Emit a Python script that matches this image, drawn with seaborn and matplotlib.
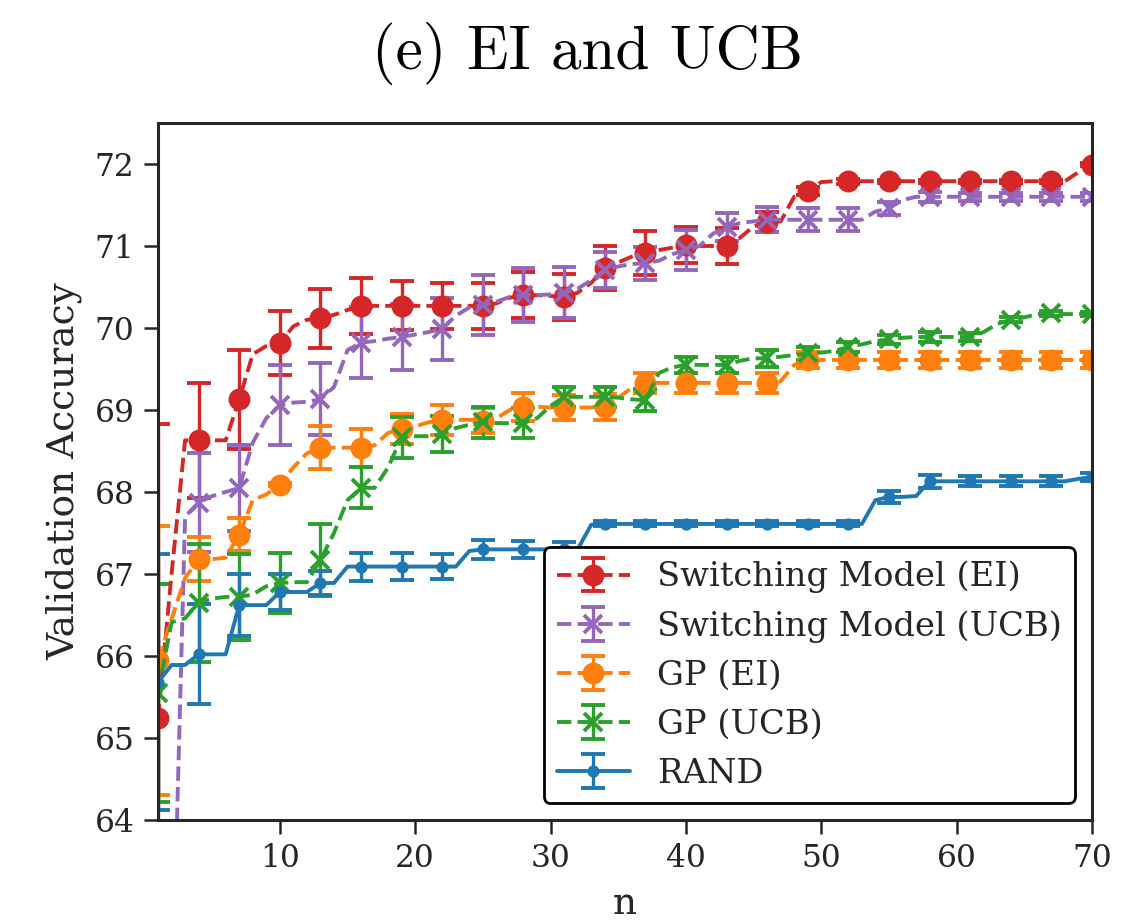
import numpy as np
import matplotlib
matplotlib.use("Agg")
import matplotlib.pyplot as plt
import seaborn as sns

n = list(range(1, 71))

sm_ei = [65.24, 67.0, 68.63, 68.63, 68.63, 68.63, 69.13, 69.68, 69.78, 69.82,
         70.02, 70.1, 70.12, 70.16, 70.22, 70.27, 70.27, 70.27, 70.27, 70.27,
         70.27, 70.27, 70.27, 70.27, 70.27, 70.3, 70.37, 70.4, 70.4, 70.39,
         70.38, 70.43, 70.55, 70.73, 70.8, 70.87, 70.91, 70.95, 70.98, 71.01,
         71.0, 71.0, 71.0, 71.1, 71.24, 71.29, 71.3, 71.6, 71.67, 71.78,
         71.79, 71.79, 71.79, 71.79, 71.79, 71.79, 71.79, 71.79, 71.79, 71.79,
         71.79, 71.79, 71.79, 71.79, 71.79, 71.79, 71.79, 71.79, 71.9, 71.99]
sm_ei_err = [3.59, 0.70, 0.60, 0.39, 0.36, 0.34, 0.30, 0.28, 0.28, 0.28, 0.28, 0.27,
             0.27, 0.22, 0.22, 0.12, 0.05, 0.03, 0.02, 0.02, 0.02, 0.02, 0.02, 0.02]

sm_ucb = [60.0, 61.5, 67.7, 67.87, 67.95, 68.0, 68.05, 68.6, 68.9, 69.06,
          69.09, 69.1, 69.13, 69.28, 69.73, 69.82, 69.84, 69.87, 69.89, 69.92,
          69.95, 69.99, 70.15, 70.25, 70.28, 70.32, 70.38, 70.4, 70.4, 70.41,
          70.43, 70.48, 70.58, 70.71, 70.75, 70.78, 70.79, 70.82, 70.9, 70.95,
          71.0, 71.15, 71.23, 71.28, 71.3, 71.32, 71.32, 71.32, 71.32, 71.32,
          71.32, 71.32, 71.32, 71.42, 71.46, 71.56, 71.6, 71.6, 71.6, 71.6,
          71.6, 71.6, 71.6, 71.6, 71.6, 71.6, 71.6, 71.6, 71.6, 71.6]
sm_ucb_err = [0.5, 0.6, 0.52, 0.49, 0.44, 0.43, 0.40, 0.38, 0.37, 0.33, 0.31, 0.22,
              0.20, 0.24, 0.17, 0.15, 0.14, 0.14, 0.08, 0.06, 0.05, 0.05, 0.05, 0.05]

gp_ei = [65.95, 66.45, 66.95, 67.18, 67.18, 67.2, 67.48, 67.9, 67.97, 68.09,
         68.3, 68.47, 68.54, 68.54, 68.54, 68.54, 68.57, 68.72, 68.77, 68.8,
         68.85, 68.88, 68.88, 68.88, 68.87, 68.9, 69.0, 69.04, 69.04, 69.03,
         69.03, 69.03, 69.03, 69.04, 69.15, 69.27, 69.33, 69.33, 69.33, 69.33,
         69.33, 69.33, 69.33, 69.33, 69.33, 69.33, 69.35, 69.55, 69.61, 69.61,
         69.61, 69.61, 69.61, 69.61, 69.61, 69.61, 69.61, 69.61, 69.61, 69.61,
         69.61, 69.61, 69.61, 69.61, 69.61, 69.61, 69.61, 69.61, 69.61, 69.61]
gp_ei_err = [1.64, 0.27, 0.20, 0.02, 0.26, 0.23, 0.18, 0.18, 0.15, 0.17, 0.15, 0.16,
             0.12, 0.12, 0.12, 0.12, 0.10, 0.10, 0.10, 0.10, 0.10, 0.10, 0.10, 0.10]

gp_ucb = [65.55, 66.41, 66.46, 66.65, 66.7, 66.72, 66.72, 66.75, 66.85, 66.89,
          66.9, 66.9, 67.17, 67.5, 67.9, 68.05, 68.05, 68.3, 68.67, 68.68,
          68.68, 68.71, 68.78, 68.82, 68.85, 68.84, 68.84, 68.84, 68.9, 69.05,
          69.16, 69.16, 69.16, 69.16, 69.15, 69.13, 69.12, 69.45, 69.52, 69.55,
          69.55, 69.55, 69.55, 69.6, 69.63, 69.63, 69.65, 69.67, 69.69, 69.7,
          69.72, 69.77, 69.8, 69.84, 69.86, 69.88, 69.89, 69.89, 69.89, 69.89,
          69.89, 69.95, 70.05, 70.1, 70.13, 70.17, 70.18, 70.17, 70.17, 70.17]
gp_ucb_err = [1.33, 0.72, 0.52, 0.37, 0.44, 0.25, 0.25, 0.22, 0.19, 0.18, 0.12, 0.12,
              0.13, 0.10, 0.10, 0.10, 0.08, 0.06, 0.06, 0.06, 0.05, 0.03, 0.03, 0.03]

rand = [65.68, 65.89, 65.89, 66.02, 66.02, 66.02, 66.62, 66.62, 66.62, 66.78,
        66.78, 66.78, 66.89, 66.89, 67.09, 67.09, 67.09, 67.09, 67.09, 67.09,
        67.09, 67.09, 67.09, 67.28, 67.3, 67.3, 67.3, 67.3, 67.3, 67.3,
        67.3, 67.3, 67.6, 67.61, 67.61, 67.61, 67.61, 67.61, 67.61, 67.61,
        67.61, 67.61, 67.61, 67.61, 67.61, 67.61, 67.61, 67.61, 67.61, 67.61,
        67.61, 67.61, 67.61, 67.9, 67.94, 67.94, 67.95, 68.13, 68.13, 68.13,
        68.13, 68.13, 68.13, 68.13, 68.13, 68.13, 68.13, 68.13, 68.16, 68.18]
rand_err = [1.56, 0.61, 0.38, 0.22, 0.15, 0.17, 0.16, 0.15, 0.12, 0.10, 0.09, 0.03,
            0.03, 0.03, 0.03, 0.03, 0.03, 0.03, 0.07, 0.08, 0.06, 0.06, 0.06, 0.05]

labels = ["Switching Model (EI)", "Switching Model (UCB)", "GP (EI)", "GP (UCB)", "RAND"]
x_ticks = [10, 20, 30, 40, 50, 60, 70]
y_ticks = [64, 65, 66, 67, 68, 69, 70, 71, 72]

sns.set_theme(style="ticks", context="notebook")
plt.rcParams["font.family"] = ["DejaVu Serif"]
pal = sns.color_palette("tab10")
colors = [pal[3], pal[4], pal[1], pal[2], pal[0]]
markers = ["o", "x", "o", "x", "."]
styles = ["--", "--", "--", "--", "-"]
msizes = [13, 13, 13, 13, 12]

fig = plt.figure(figsize=(11.23, 9.24), dpi=100)
ax = fig.add_axes([0.1407, 0.1126, 0.8317, 0.7543])

series = [sm_ei, sm_ucb, gp_ei, gp_ucb, rand]
errs = [sm_ei_err, sm_ucb_err, gp_ei_err, gp_ucb_err, rand_err]
handles = []
for ys, es, c, m, ls, ms, lab in zip(series, errs, colors, markers, styles, msizes, labels):
    full_err = np.zeros(len(ys))
    full_err[0::3] = es
    h = ax.errorbar(n, ys, yerr=full_err, errorevery=3, markevery=3,
                    color=c, marker=m, ls=ls, lw=2.8, ms=ms, mew=2.8,
                    elinewidth=2.4, capsize=8.5, capthick=2.2, label=lab,
                    clip_on=True)
    handles.append(h)

ax.set_xlim(1, 70)
ax.set_ylim(64, 72.5)
ax.set_xticks(x_ticks)
ax.set_yticks(y_ticks)
ax.tick_params(axis="both", labelsize=22.5, length=10, width=1.8, colors="#262626")
ax.tick_params(axis="x", pad=6.5)
ax.tick_params(axis="y", pad=7)
for s in ax.spines.values():
    s.set_linewidth(2.2)
    s.set_color("#262626")

ax.set_xlabel("n", fontsize=27, color="#262626", labelpad=9)
ax.set_ylabel("Validation Accuracy", fontsize=27, color="#262626", labelpad=9)
ax.set_title("(e) EI and UCB", fontsize=44, family="cmr10", pad=39, x=0.46, color="black")

leg = ax.legend(handles=handles, labels=labels, loc="lower right", fontsize=24.3,
                frameon=True, framealpha=1, edgecolor="black", fancybox=True,
                borderaxespad=0.5, handlelength=2.15, handletextpad=0.8,
                labelspacing=0.5, borderpad=0.4)
leg.get_frame().set_linewidth(2.0)

fig.savefig("out.png", dpi=100)
